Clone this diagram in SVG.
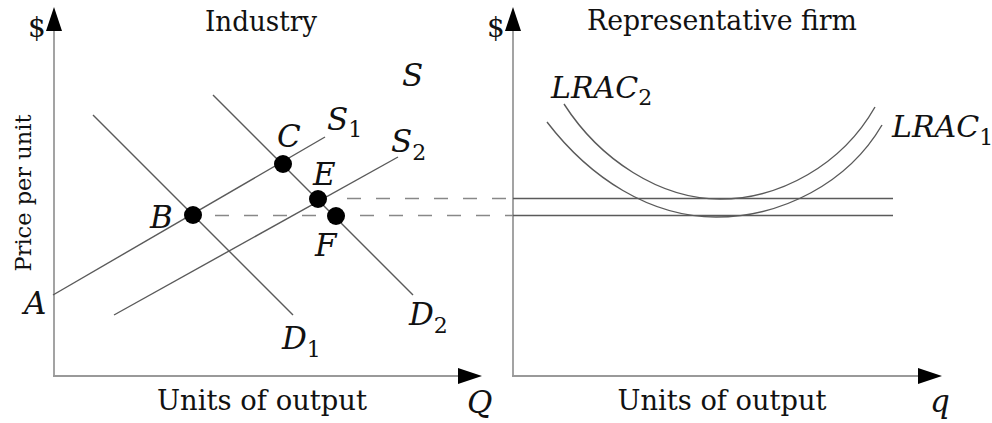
<svg xmlns="http://www.w3.org/2000/svg" width="992" height="423" viewBox="0 0 992 423">
<style>
text{font-family:"DejaVu Serif","Liberation Serif",serif;fill:#111}
.t{font-size:28px}
.i{font-size:31px;font-style:italic}
.l{font-size:30px;font-style:italic}
.sub{font-size:22px;font-style:normal}
.ax{stroke:#999;stroke-width:1.8;fill:none}
.cv{stroke:#5a5a5a;stroke-width:1.4;fill:none}
.ds{stroke:#888;stroke-width:1.4;stroke-dasharray:14 15;fill:none}
.hd{fill:#000}
.dot{fill:#000}
</style>
<rect width="992" height="423" fill="#fff"/>
<g id="left-axes">
<line class="ax" x1="54" y1="376" x2="54" y2="28"/>
<polygon class="hd" points="54,7 46,31 62,31"/>
<line class="ax" x1="53" y1="376" x2="460" y2="376"/>
<polygon class="hd" points="482,376 458,368 458,384"/>
<text class="t" x="28" y="37">$</text>
<text class="t" x="261" y="31" text-anchor="middle" textLength="112" lengthAdjust="spacingAndGlyphs">Industry</text>
<text class="t" x="262" y="410" text-anchor="middle" textLength="210" lengthAdjust="spacingAndGlyphs">Units of output</text>
<text style="font-size:23px" transform="translate(31,193) rotate(-90)" text-anchor="middle" textLength="157" lengthAdjust="spacingAndGlyphs">Price per unit</text>
<text class="i" x="467" y="413">Q</text>
</g>
<g id="right-axes">
<line class="ax" x1="513" y1="376" x2="513" y2="28"/>
<polygon class="hd" points="513,7 505,31 521,31"/>
<line class="ax" x1="512" y1="376" x2="920" y2="376"/>
<polygon class="hd" points="942,376 918,368 918,384"/>
<text class="t" x="487" y="37">$</text>
<text class="t" x="722" y="30" text-anchor="middle" textLength="270" lengthAdjust="spacingAndGlyphs">Representative firm</text>
<text class="t" x="722" y="410" text-anchor="middle" textLength="209" lengthAdjust="spacingAndGlyphs">Units of output</text>
<text class="i" x="930" y="412">q</text>
</g>
<g id="connectors">
<line id="S1" class="cv" x1="53" y1="295" x2="325" y2="137"/>
<line id="S2" class="cv" x1="114" y1="315" x2="398" y2="157"/>
<line id="D1" class="cv" x1="93" y1="115" x2="293" y2="315"/>
<line id="D2" class="cv" x1="213" y1="95" x2="413" y2="295"/>
<line class="ds" x1="347" y1="198.5" x2="513" y2="198.5"/>
<line class="ds" x1="215" y1="215.5" x2="513" y2="215.5"/>
<line class="cv" x1="513" y1="198.5" x2="893" y2="198.5"/>
<line class="cv" x1="513" y1="215.5" x2="893" y2="215.5"/>
<path id="LRAC1" class="cv" d="M547,122 C590,178 650,217 716,217 C782,217 848,183 882,125"/>
<path id="LRAC2" class="cv" d="M564,104 C600,160 660,199 720,199 C780,199 842,165 875,107"/>
</g>
<g id="point-B"><circle class="dot" cx="193" cy="215" r="9"/><text class="i" x="150" y="228">B</text></g>
<g id="point-C"><circle class="dot" cx="283" cy="164" r="9"/><text class="i" x="277" y="147">C</text></g>
<g id="point-E"><circle class="dot" cx="318" cy="199" r="9"/><text class="i" x="313" y="185">E</text></g>
<g id="point-F"><circle class="dot" cx="336" cy="216" r="9"/><text class="i" x="315" y="256">F</text></g>
<g id="point-A"><text class="i" x="24" y="314">A</text></g>
<g id="labels">
<text class="i" x="402" y="86">S</text>
<text class="i" x="327" y="130">S<tspan class="sub" dy="7">1</tspan></text>
<text class="i" x="391" y="152">S<tspan class="sub" dy="8">2</tspan></text>
<text class="i" x="282" y="349">D<tspan class="sub" dy="8">1</tspan></text>
<text class="i" x="409" y="325">D<tspan class="sub" dy="8">2</tspan></text>
<text class="l" x="551" y="98">LRAC<tspan class="sub" dy="7">2</tspan></text>
<text class="l" x="892" y="137">LRAC<tspan class="sub" dy="8">1</tspan></text>
</g>
</svg>
